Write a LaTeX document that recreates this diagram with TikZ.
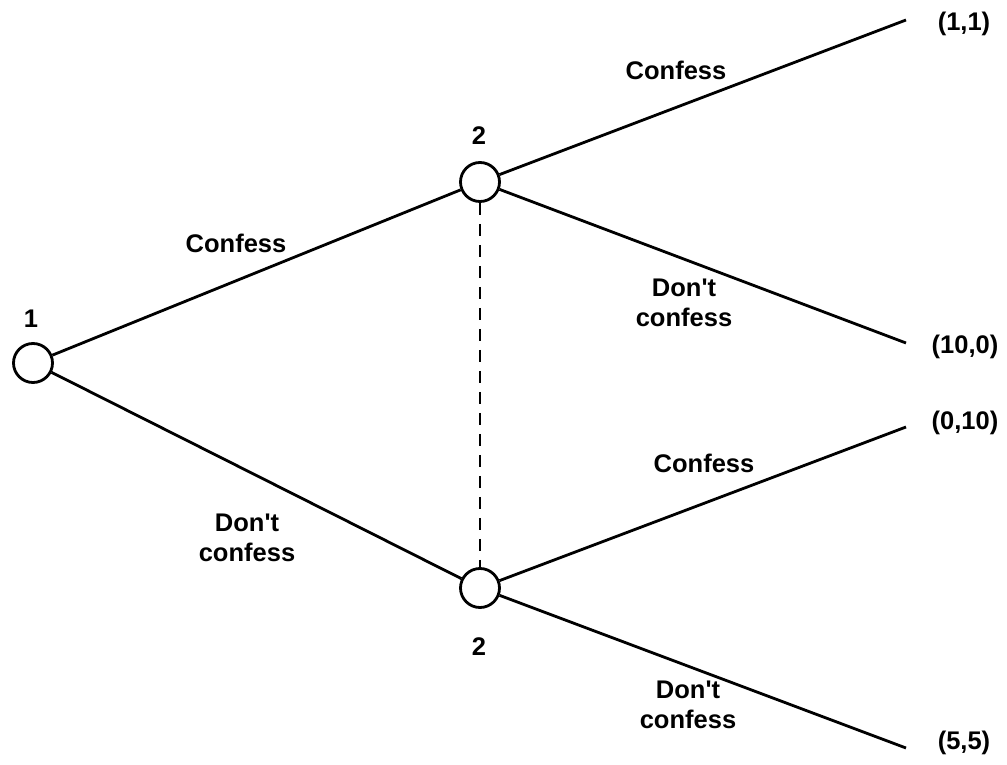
\documentclass[tikz,border=0pt]{standalone}
\usepackage{fontspec}
\setmainfont{Liberation Sans}
\newcommand{\dontq}{Don\textquotesingle t}
\begin{document}
\begin{tikzpicture}[x=1pt,y=-1pt,
  decision/.style={circle,draw,line width=2.8pt,minimum size=39pt,inner sep=0pt,fill=white},
  branch/.style={line width=2.8pt},
  infoset/.style={line width=2.4pt,dash pattern=on 12pt off 9pt},
  lbl/.style={font=\bfseries\fontsize{25.5}{30}\selectfont,align=center,inner sep=0pt},
  payoff/.style={font=\bfseries\fontsize{25.5}{30}\selectfont,inner sep=0pt}]
\useasboundingbox (0,0) rectangle (1007,765);
% decision nodes
\node[decision] (p1) at (33,363) {};
\node[decision] (p2a) at (480,182) {};
\node[decision] (p2b) at (480,588) {};
% free ends of the terminal branches
\coordinate (t1) at (906,20);
\coordinate (t2) at (906,343);
\coordinate (t3) at (906,427);
\coordinate (t4) at (906,748);
% branches
\draw[branch] (p1) -- (p2a);
\draw[branch] (p1) -- (p2b);
\draw[branch] (p2a) -- (t1);
\draw[branch] (p2a) -- (t2);
\draw[branch] (p2b) -- (t3);
\draw[branch] (p2b) -- (t4);
% information set of player 2
\draw[infoset] (p2a.south) -- (p2b.north);
% player labels
\node[lbl,anchor=base] (n1) at (31,327) {1};
\node[lbl,anchor=base] (n2a) at (479,145) {2};
\node[lbl,anchor=base] (n2b) at (479,655) {2};
% action labels (base = last line)
\node[lbl,anchor=base] (c1) at (236,252) {Confess};
\node[lbl,anchor=base] (d1) at (247,561) {\dontq\\confess};
\node[lbl,anchor=base] (c2) at (676,80) {Confess};
\node[lbl,anchor=base] (d2) at (684,326) {\dontq\\confess};
\node[lbl,anchor=base] (c3) at (704,472) {Confess};
\node[lbl,anchor=base] (d3) at (688,728) {\dontq\\confess};
% payoffs
\node[payoff] (u1) at (964,24) {(1,1)};
\node[payoff] (u2) at (965,347) {(10,0)};
\node[payoff] (u3) at (965,423) {(0,10)};
\node[payoff] (u4) at (964,743) {(5,5)};
\end{tikzpicture}
\end{document}
